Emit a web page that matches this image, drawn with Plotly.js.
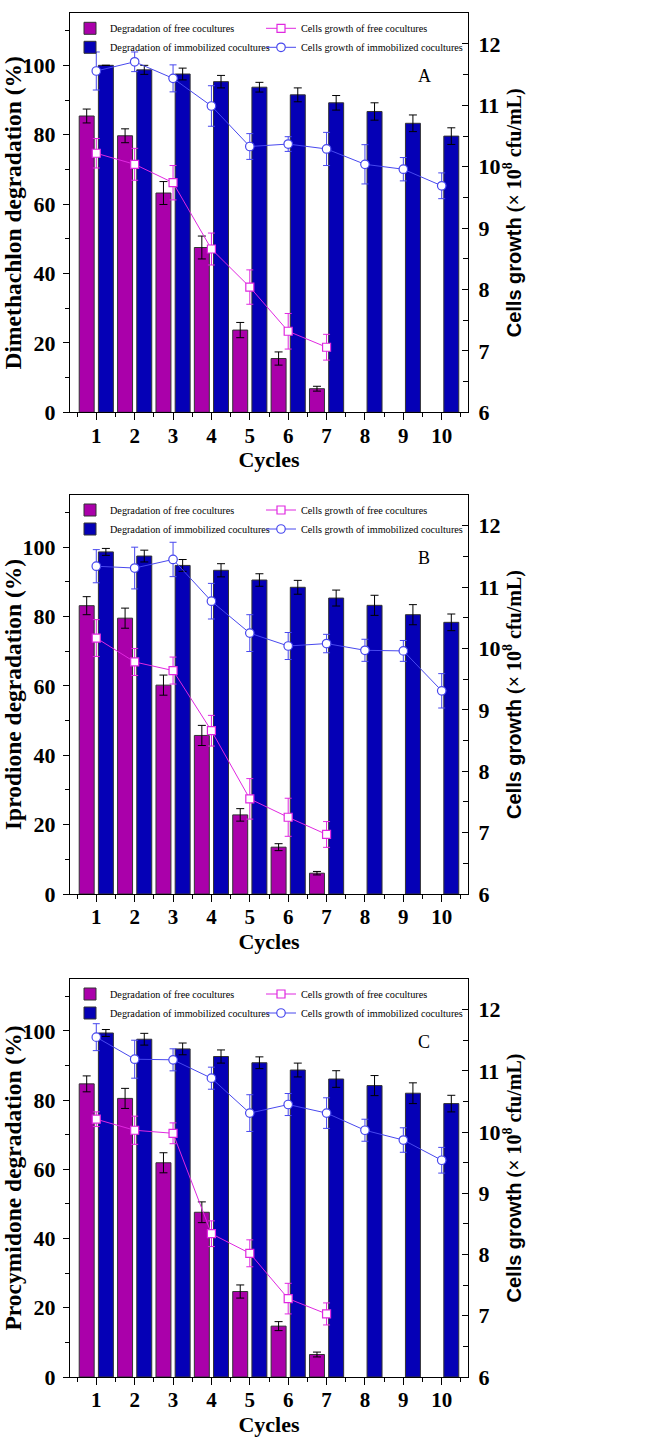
<!DOCTYPE html>
<html>
<head>
<meta charset="utf-8">
<script src="https://cdn.plot.ly/plotly-3.0.1.min.js"></script>
<style>html,body{margin:0;padding:0;background:#fff;}#chart{width:654px;height:1439px;}</style>
</head>
<body>
<div id="chart"></div>
<script>
// ---- Data ----
const cycles = [1, 2, 3, 4, 5, 6, 7, 8, 9, 10];
const cyclesFree = [1, 2, 3, 4, 5, 6, 7];
const cycleTicks = ['1', '2', '3', '4', '5', '6', '7', '8', '9', '10'];

const panelLetters = ['A', 'B', 'C'];
const compoundTitles = ['Dimethachlon degradation (%)', 'Iprodione degradation (%)', 'Procymidone degradation (%)'];
const seriesNames = ['Degradation of free cocultures', 'Degradation of immobilized cocultures',
                     'Cells growth of free cocultures', 'Cells growth of immobilized cocultures'];

// Panel A
const freeDegA = [85.4, 79.7, 63.2, 47.5, 23.7, 15.5, 6.8];
const freeDegErrA = [2.0, 2.0, 3.3, 3.3, 2.2, 1.9, 0.7];
const immDegA = [100, 98.7, 97.5, 95.3, 93.7, 91.5, 89.2, 86.7, 83.3, 79.6];
const immDegErrA = [0, 1.3, 1.7, 1.8, 1.4, 2.0, 2.1, 2.5, 2.4, 2.4];
const freeCellsA = [10.22, 10.04, 9.74, 8.66, 8.04, 7.32, 7.06];
const freeCellsErrA = [0.24, 0.26, 0.28, 0.26, 0.28, 0.29, 0.21];
const immCellsA = [11.56, 11.71, 11.44, 10.99, 10.33, 10.37, 10.29, 10.04, 9.96, 9.69];
const immCellsErrA = [0.31, 0.16, 0.22, 0.33, 0.21, 0.12, 0.27, 0.32, 0.19, 0.21];

// Panel B
const freeDegB = [83.1, 79.5, 60.2, 45.7, 22.8, 13.5, 6.0];
const freeDegErrB = [2.6, 2.9, 2.9, 2.9, 1.8, 1.0, 0.5];
const immDegB = [98.6, 97.4, 94.7, 93.3, 90.5, 88.4, 85.3, 83.2, 80.5, 78.3];
const immDegErrB = [1.0, 1.7, 1.7, 1.9, 1.8, 2.0, 2.3, 2.9, 2.9, 2.4];
const freeCellsB = [10.17, 9.78, 9.64, 8.66, 7.55, 7.25, 6.97];
const freeCellsErrB = [0.30, 0.22, 0.22, 0.25, 0.33, 0.31, 0.21];
const immCellsB = [11.34, 11.31, 11.45, 10.77, 10.25, 10.04, 10.08, 9.97, 9.96, 9.31];
const immCellsErrB = [0.27, 0.34, 0.28, 0.29, 0.30, 0.22, 0.15, 0.18, 0.17, 0.28];

// Panel C
const freeDegC = [84.7, 80.5, 61.9, 47.6, 24.7, 14.7, 6.5];
const freeDegErrC = [2.3, 2.9, 2.9, 3.0, 1.9, 1.3, 0.7];
const immDegC = [99.4, 97.6, 94.8, 92.6, 90.8, 88.7, 86.1, 84.2, 82.0, 79.0];
const immDegErrC = [1.0, 1.7, 1.7, 1.9, 1.7, 2.0, 2.4, 2.9, 3.0, 2.4];
const freeCellsC = [10.21, 10.03, 9.98, 8.34, 8.02, 7.28, 7.03];
const freeCellsErrC = [0.12, 0.23, 0.17, 0.21, 0.22, 0.25, 0.18];
const immCellsC = [11.55, 11.19, 11.18, 10.88, 10.31, 10.45, 10.31, 10.03, 9.87, 9.54];
const immCellsErrC = [0.22, 0.31, 0.18, 0.18, 0.30, 0.18, 0.25, 0.18, 0.20, 0.21];

const panels = [
  {free: freeDegA, freeE: freeDegErrA, imm: immDegA, immE: immDegErrA, fc: freeCellsA, fcE: freeCellsErrA, ic: immCellsA, icE: immCellsErrA},
  {free: freeDegB, freeE: freeDegErrB, imm: immDegB, immE: immDegErrB, fc: freeCellsB, fcE: freeCellsErrB, ic: immCellsB, icE: immCellsErrB},
  {free: freeDegC, freeE: freeDegErrC, imm: immDegC, immE: immDegErrC, fc: freeCellsC, fcE: freeCellsErrC, ic: immCellsC, icE: immCellsErrC}
];

// ---- Styling / layout ----
const W = 654, H = 1439;
const M = {l: 70, r: 186, t: 13, b: 62};
const plotH = H - M.t - M.b;
const panelTops = [13.3, 495, 979];
const panelBottoms = [412.3, 894, 1377];
const py = p => (H - M.b - p) / plotH;
const px = p => (p - M.l) / (W - M.l - M.r);

const SERIF = 'Liberation Serif, Times New Roman, serif';
const colFree = '#AA00AA', colImm = '#0500B6', colFreeLine = '#E028E0', colImmLine = '#4848EE';

const traces = [];
const layout = {
  width: W, height: H,
  margin: M,
  paper_bgcolor: '#fff', plot_bgcolor: '#fff',
  barmode: 'group', bargap: 0, bargroupgap: 0.22,
  showlegend: true,
  font: {family: SERIF, color: '#000'},
  annotations: []
};

panels.forEach((d, i) => {
  const n = i + 1;
  const xk = n === 1 ? 'x' : 'x' + n;
  const yL = 2 * i + 1, yR = 2 * i + 2;
  const yLk = yL === 1 ? 'y' : 'y' + yL;
  const yRk = 'y' + yR;
  const legA = (2 * i + 1) === 1 ? 'legend' : 'legend' + (2 * i + 1);
  const legB = 'legend' + (2 * i + 2);

  traces.push({
    type: 'bar', x: cyclesFree, y: d.free, name: seriesNames[0], xaxis: xk, yaxis: yLk, legend: legA,
    marker: {color: colFree, line: {color: '#333', width: 1}},
    error_y: {type: 'data', array: d.freeE, visible: true, color: '#000', thickness: 1, width: 4}
  });
  traces.push({
    type: 'bar', x: cycles, y: d.imm, name: seriesNames[1], xaxis: xk, yaxis: yLk, legend: legA,
    marker: {color: colImm, line: {color: '#333', width: 1}},
    error_y: {type: 'data', array: d.immE, visible: true, color: '#000', thickness: 1, width: 4}
  });
  traces.push({
    type: 'scatter', mode: 'lines+markers', x: cyclesFree, y: d.fc, name: seriesNames[2], xaxis: xk, yaxis: yRk, legend: legB,
    line: {color: colFreeLine, width: 1},
    marker: {symbol: 'square', size: 8, color: '#fff', line: {color: colFreeLine, width: 1.2}},
    error_y: {type: 'data', array: d.fcE, visible: true, color: colFreeLine, thickness: 1, width: 3.5}
  });
  traces.push({
    type: 'scatter', mode: 'lines+markers', x: cycles, y: d.ic, name: seriesNames[3], xaxis: xk, yaxis: yRk, legend: legB,
    line: {color: colImmLine, width: 1},
    marker: {symbol: 'circle', size: 8.5, color: '#fff', line: {color: colImmLine, width: 1.2}},
    error_y: {type: 'data', array: d.icE, visible: true, color: colImmLine, thickness: 1, width: 3.5}
  });

  const dom = [py(panelBottoms[i]), Math.min(1, py(panelTops[i]))];

  layout['xaxis' + (n === 1 ? '' : n)] = {
    domain: [0, 1], anchor: yLk, range: [0.315, 10.685],
    tickmode: 'array', tickvals: cycles, ticktext: cycleTicks,
    ticks: 'outside', ticklen: 7, tickwidth: 1, tickcolor: '#000',
    minor: {tickmode: 'array', tickvals: [0.5, 1.5, 2.5, 3.5, 4.5, 5.5, 6.5, 7.5, 8.5, 9.5, 10.5], ticks: 'outside', ticklen: 4, tickwidth: 1, tickcolor: '#000', showgrid: false},
    showline: true, linecolor: '#000', linewidth: 1, mirror: true,
    showgrid: false, zeroline: false,
    tickfont: {family: SERIF, size: 21, weight: 'bold', color: '#000'},
    ticklabelstandoff: -3,
    title: {text: 'Cycles', font: {family: SERIF, size: 22, weight: 'bold', color: '#000'}, standoff: 5}
  };
  layout['yaxis' + (yL === 1 ? '' : yL)] = {
    domain: dom, anchor: xk, range: [0, 115],
    tickmode: 'linear', tick0: 0, dtick: 20,
    ticks: 'outside', ticklen: 6, tickwidth: 1, tickcolor: '#000',
    minor: {tickmode: 'linear', tick0: 10, dtick: 20, ticks: 'outside', ticklen: 4, tickwidth: 1, tickcolor: '#000', showgrid: false},
    showline: true, linecolor: '#000', linewidth: 1,
    showgrid: false, zeroline: false,
    tickfont: {family: SERIF, size: 22, weight: 'bold', color: '#000'},
    ticklabelstandoff: 3,
    title: {text: compoundTitles[i], font: {family: SERIF, size: 23.5, weight: 'bold', color: '#000'}, standoff: 4}
  };
  layout['yaxis' + yR] = {
    domain: dom, anchor: xk, overlaying: yLk, side: 'right', range: [6, 12.5],
    tickmode: 'linear', tick0: 6, dtick: 1,
    ticks: 'inside', ticklen: 6, tickwidth: 1, tickcolor: '#000',
    minor: {tickmode: 'linear', tick0: 6.5, dtick: 1, ticks: 'inside', ticklen: 5, tickwidth: 1, tickcolor: '#000', showgrid: false},
    showline: true, linecolor: '#000', linewidth: 1,
    showgrid: false, zeroline: false,
    tickfont: {family: SERIF, size: 22, weight: 'bold', color: '#000'},
    ticklabelstandoff: 5,
    title: {text: '<span style="font-family:Liberation Sans">Cells growth</span> (× 10<sup>8</sup> cfu/mL)', font: {family: SERIF, size: 20, weight: 'bold', color: '#000'}, standoff: 0}
  };

  const legTop = py(panelTops[i] + 0.5);
  layout[legA] = {x: px(70), y: legTop, xanchor: 'left', yanchor: 'top', bgcolor: 'rgba(0,0,0,0)', borderwidth: 0,
    font: {family: SERIF, size: 10.2, color: '#000'}, itemwidth: 30, tracegroupgap: 0};
  layout[legB] = {x: px(261), y: legTop, xanchor: 'left', yanchor: 'top', bgcolor: 'rgba(0,0,0,0)', borderwidth: 0,
    font: {family: SERIF, size: 10.2, color: '#000'}, itemwidth: 30, tracegroupgap: 0};

  layout.annotations.push({
    xref: 'paper', yref: 'paper', x: px(424), y: py(panelTops[i] + 63), xanchor: 'center', yanchor: 'middle',
    text: panelLetters[i], showarrow: false, font: {family: SERIF, size: 18, color: '#000'}
  });
});

Plotly.newPlot('chart', traces, layout, {staticPlot: true, displayModeBar: false});
</script>
</body>
</html>
